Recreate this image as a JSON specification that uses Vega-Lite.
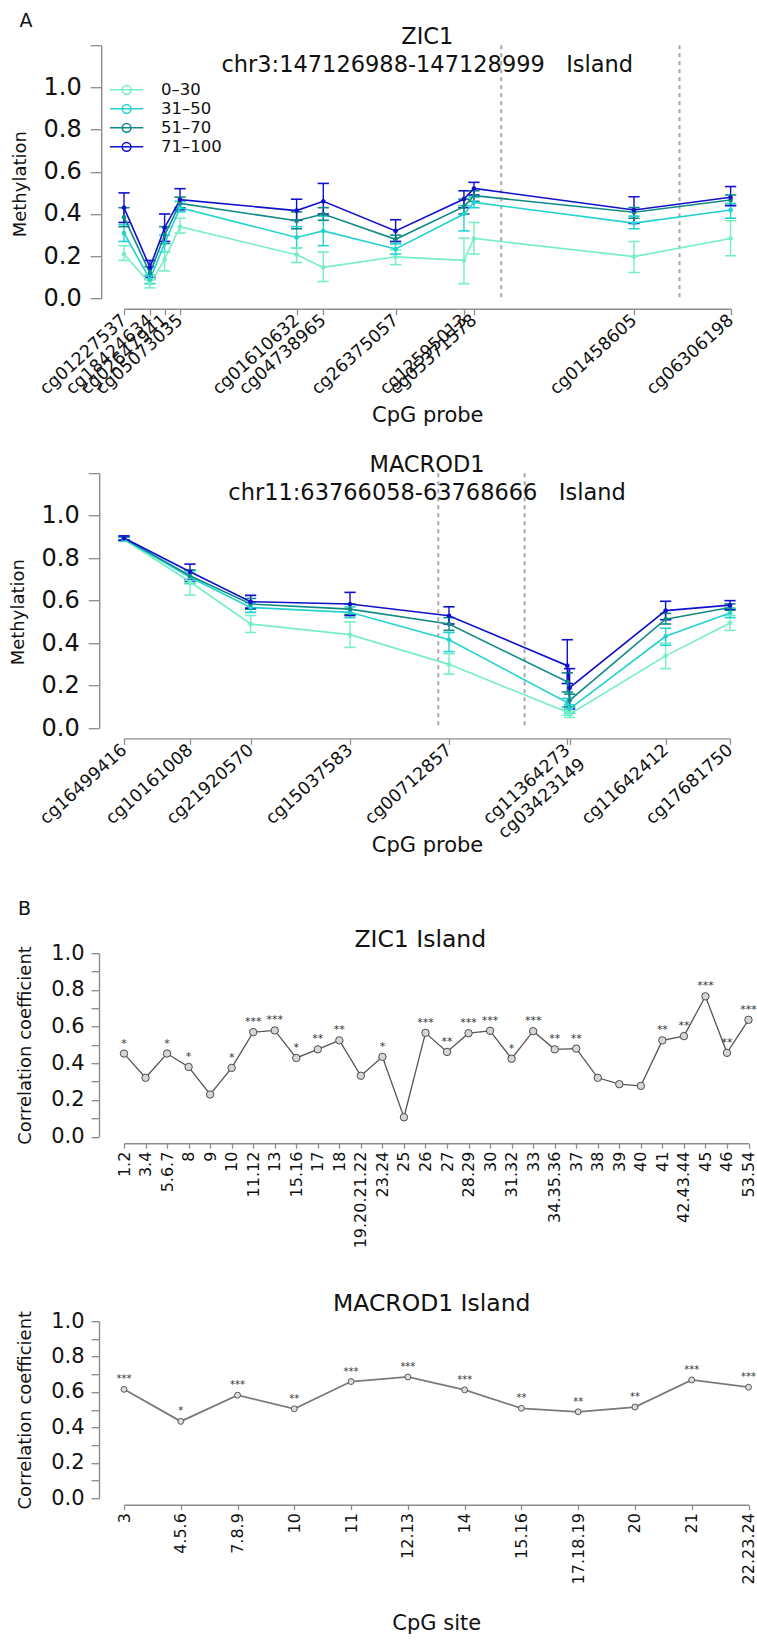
{
  "$schema": "https://vega.github.io/schema/vega-lite/v6.json",
  "bounds": "flush",
  "spacing": 0,
  "padding": {"left": 9, "top": 11.2, "right": 5, "bottom": 5},
  "resolve": {"scale": {"color": "independent"}, "legend": {"color": "independent"}},
  "config": {
    "view": {"stroke": null},
    "font": "DejaVu Sans",
    "axis": {"grid": false, "domainColor": "#8c8c8c", "tickColor": "#8c8c8c", "domainWidth": 1.4, "tickWidth": 1.3, "labelColor": "#111111", "titleColor": "#111111", "labelFont": "DejaVu Sans", "titleFont": "DejaVu Sans", "titleFontWeight": "normal", "labelFlush": false, "labelBound": false, "labelOverlap": false},
    "title": {"font": "DejaVu Sans", "fontWeight": "normal", "color": "#111111", "subtitleFont": "DejaVu Sans", "subtitleColor": "#111111"}
  },
  "vconcat": [
    {
      "width": 606.6, "height": 13.5,
      "title": {"text": "A", "anchor": "start", "frame": "group", "dx": -104.5, "dy": 18.5, "fontSize": 19, "offset": 0, "baseline": "bottom"},
      "data": {"values": []},
      "mark": "point"
    },
    {
      "width": 606.6, "height": 253.2,
      "title": {"text": "ZIC1", "subtitle": "chr3:147126988-147128999\u00a0\u00a0\u00a0Island", "fontSize": 22.5, "subtitleFontSize": 22.5, "subtitlePadding": 5.2, "offset": -43.1, "anchor": "middle", "frame": "group"},
      "data": {"values": [
        {"probe": "cg01227537", "pos": 147122732, "group": "0–30", "m": 0.21, "lo": 0.18, "hi": 0.25},
        {"probe": "cg01227537", "pos": 147122732, "group": "31–50", "m": 0.31, "lo": 0.27, "hi": 0.35},
        {"probe": "cg01227537", "pos": 147122732, "group": "51–70", "m": 0.385, "lo": 0.34, "hi": 0.43},
        {"probe": "cg01227537", "pos": 147122732, "group": "71–100", "m": 0.43, "lo": 0.36, "hi": 0.5},
        {"probe": "cg18424634", "pos": 147123025, "group": "0–30", "m": 0.07, "lo": 0.05, "hi": 0.09},
        {"probe": "cg18424634", "pos": 147123025, "group": "31–50", "m": 0.09, "lo": 0.07, "hi": 0.11},
        {"probe": "cg18424634", "pos": 147123025, "group": "51–70", "m": 0.12, "lo": 0.09, "hi": 0.15},
        {"probe": "cg18424634", "pos": 147123025, "group": "71–100", "m": 0.147, "lo": 0.1, "hi": 0.18},
        {"probe": "cg02647941", "pos": 147123190, "group": "0–30", "m": 0.185, "lo": 0.13, "hi": 0.22},
        {"probe": "cg02647941", "pos": 147123190, "group": "31–50", "m": 0.26, "lo": 0.22, "hi": 0.3},
        {"probe": "cg02647941", "pos": 147123190, "group": "51–70", "m": 0.3, "lo": 0.26, "hi": 0.34},
        {"probe": "cg02647941", "pos": 147123190, "group": "71–100", "m": 0.335, "lo": 0.27, "hi": 0.4},
        {"probe": "cg05073035", "pos": 147123364, "group": "0–30", "m": 0.34, "lo": 0.31, "hi": 0.38},
        {"probe": "cg05073035", "pos": 147123364, "group": "31–50", "m": 0.43, "lo": 0.41, "hi": 0.46},
        {"probe": "cg05073035", "pos": 147123364, "group": "51–70", "m": 0.45, "lo": 0.43, "hi": 0.48},
        {"probe": "cg05073035", "pos": 147123364, "group": "71–100", "m": 0.468, "lo": 0.42, "hi": 0.52},
        {"probe": "cg01610632", "pos": 147124679, "group": "0–30", "m": 0.207, "lo": 0.17, "hi": 0.24},
        {"probe": "cg01610632", "pos": 147124679, "group": "31–50", "m": 0.289, "lo": 0.24, "hi": 0.34},
        {"probe": "cg01610632", "pos": 147124679, "group": "51–70", "m": 0.368, "lo": 0.33, "hi": 0.41},
        {"probe": "cg01610632", "pos": 147124679, "group": "71–100", "m": 0.416, "lo": 0.37, "hi": 0.47},
        {"probe": "cg04738965", "pos": 147124980, "group": "0–30", "m": 0.147, "lo": 0.08, "hi": 0.22},
        {"probe": "cg04738965", "pos": 147124980, "group": "31–50", "m": 0.32, "lo": 0.25, "hi": 0.39},
        {"probe": "cg04738965", "pos": 147124980, "group": "51–70", "m": 0.4, "lo": 0.37, "hi": 0.43},
        {"probe": "cg04738965", "pos": 147124980, "group": "71–100", "m": 0.46, "lo": 0.4, "hi": 0.545},
        {"probe": "cg26375057", "pos": 147125796, "group": "0–30", "m": 0.197, "lo": 0.16, "hi": 0.23},
        {"probe": "cg26375057", "pos": 147125796, "group": "31–50", "m": 0.234, "lo": 0.21, "hi": 0.26},
        {"probe": "cg26375057", "pos": 147125796, "group": "51–70", "m": 0.28, "lo": 0.26, "hi": 0.3},
        {"probe": "cg26375057", "pos": 147125796, "group": "71–100", "m": 0.32, "lo": 0.27, "hi": 0.373},
        {"probe": "cg12595013", "pos": 147126567, "group": "0–30", "m": 0.18, "lo": 0.07, "hi": 0.285},
        {"probe": "cg12595013", "pos": 147126567, "group": "31–50", "m": 0.4, "lo": 0.32, "hi": 0.44},
        {"probe": "cg12595013", "pos": 147126567, "group": "51–70", "m": 0.435, "lo": 0.4, "hi": 0.47},
        {"probe": "cg12595013", "pos": 147126567, "group": "71–100", "m": 0.471, "lo": 0.43, "hi": 0.51},
        {"probe": "cg05371578", "pos": 147126680, "group": "0–30", "m": 0.284, "lo": 0.21, "hi": 0.36},
        {"probe": "cg05371578", "pos": 147126680, "group": "31–50", "m": 0.455, "lo": 0.43, "hi": 0.48},
        {"probe": "cg05371578", "pos": 147126680, "group": "51–70", "m": 0.487, "lo": 0.46, "hi": 0.51},
        {"probe": "cg05371578", "pos": 147126680, "group": "71–100", "m": 0.521, "lo": 0.49, "hi": 0.55},
        {"probe": "cg01458605", "pos": 147128485, "group": "0–30", "m": 0.198, "lo": 0.123, "hi": 0.27},
        {"probe": "cg01458605", "pos": 147128485, "group": "31–50", "m": 0.357, "lo": 0.33, "hi": 0.39},
        {"probe": "cg01458605", "pos": 147128485, "group": "51–70", "m": 0.408, "lo": 0.38, "hi": 0.43},
        {"probe": "cg01458605", "pos": 147128485, "group": "71–100", "m": 0.419, "lo": 0.355, "hi": 0.482},
        {"probe": "cg06306198", "pos": 147129575, "group": "0–30", "m": 0.284, "lo": 0.202, "hi": 0.368},
        {"probe": "cg06306198", "pos": 147129575, "group": "31–50", "m": 0.419, "lo": 0.38, "hi": 0.45},
        {"probe": "cg06306198", "pos": 147129575, "group": "51–70", "m": 0.466, "lo": 0.44, "hi": 0.49},
        {"probe": "cg06306198", "pos": 147129575, "group": "71–100", "m": 0.479, "lo": 0.44, "hi": 0.53},
        {"pos": 147126988, "cut": 1},
        {"pos": 147128999, "cut": 1}
      ]},
      "encoding": {
        "x": {"field": "pos", "type": "quantitative", "scale": {"domain": [147122732, 147129575], "nice": false, "zero": false},
          "axis": {"title": "CpG probe", "titleFontSize": 21, "titleY": 107, "titleBaseline": "middle", "offset": 10.3, "tickSize": 6,
            "values": [147122732, 147123025, 147123190, 147123364, 147124679, 147124980, 147125796, 147126567, 147126680, 147128485, 147129575],
            "labelExpr": "['cg01227537','cg18424634','cg02647941','cg05073035','cg01610632','cg04738965','cg26375057','cg12595013','cg05371578','cg01458605','cg06306198'][indexof([147122732,147123025,147123190,147123364,147124679,147124980,147125796,147126567,147126680,147128485,147129575], datum.value)]",
            "labelAngle": -42, "labelAlign": "right", "labelBaseline": "middle", "labelFontSize": 17.5, "labelPadding": 3}}
      },
      "layer": [
        {"transform": [{"filter": "datum.cut == 1"}],
         "mark": {"type": "rule", "strokeDash": [4, 4], "strokeWidth": 2, "color": "#a8a8a8"},
         "encoding": {}},
        {"transform": [{"filter": "datum.cut != 1"}],
         "mark": {"type": "rule", "strokeWidth": 1.4},
         "encoding": {
           "y": {"field": "lo", "type": "quantitative", "scale": {"domain": [0, 1.2], "nice": false},
             "axis": {"title": "Methylation", "titleFontSize": 18, "titleAngle": 270, "titleX": -80.4, "titleY": 138.5, "titleAlign": "center", "titleBaseline": "middle", "offset": 22.8, "tickSize": 11, "labelPadding": 9, "labelFontSize": 24, "values": [0, 0.2, 0.4, 0.6, 0.8, 1, 1.2], "labelExpr": "datum.value > 1.1 ? '' : format(datum.value, '.1f')"}},
           "y2": {"field": "hi"},
           "color": {"field": "group", "type": "nominal", "scale": {"domain": ["0–30", "31–50", "51–70", "71–100"], "range": ["#76eec6", "#22d3d0", "#108a86", "#1010cd"]},
             "legend": {"title": null, "orient": "none", "legendX": -6.4, "legendY": 35.6, "padding": 0, "symbolType": "M-2.08,0H2.08M-0.55,0A0.55,0.55,0,1,1,0.55,0A0.55,0.55,0,1,1,-0.55,0", "symbolSize": 256, "symbolStrokeWidth": 1.5, "symbolOpacity": 1, "symbolFillColor": "transparent", "labelFontSize": 16.5, "labelFont": "DejaVu Sans", "labelColor": "#111111", "labelOffset": 25.4, "rowPadding": 1}}}},
        {"transform": [{"filter": "datum.cut != 1"}],
         "mark": {"type": "tick", "orient": "horizontal", "size": 10, "thickness": 0.3, "filled": false, "strokeWidth": 1.3, "opacity": 1},
         "encoding": {
           "y": {"field": "lo", "type": "quantitative", "scale": {"domain": [0, 1.2], "nice": false},
             "axis": {"title": "Methylation", "titleFontSize": 18, "titleAngle": 270, "titleX": -80.4, "titleY": 138.5, "titleAlign": "center", "titleBaseline": "middle", "offset": 22.8, "tickSize": 11, "labelPadding": 9, "labelFontSize": 24, "values": [0, 0.2, 0.4, 0.6, 0.8, 1, 1.2], "labelExpr": "datum.value > 1.1 ? '' : format(datum.value, '.1f')"}},
           "color": {"field": "group", "type": "nominal", "scale": {"domain": ["0–30", "31–50", "51–70", "71–100"], "range": ["#76eec6", "#22d3d0", "#108a86", "#1010cd"]},
             "legend": {"title": null, "orient": "none", "legendX": -6.4, "legendY": 35.6, "padding": 0, "symbolType": "M-2.08,0H2.08M-0.55,0A0.55,0.55,0,1,1,0.55,0A0.55,0.55,0,1,1,-0.55,0", "symbolSize": 256, "symbolStrokeWidth": 1.5, "symbolOpacity": 1, "symbolFillColor": "transparent", "labelFontSize": 16.5, "labelFont": "DejaVu Sans", "labelColor": "#111111", "labelOffset": 25.4, "rowPadding": 1}}}},
        {"transform": [{"filter": "datum.cut != 1"}],
         "mark": {"type": "tick", "orient": "horizontal", "size": 10, "thickness": 0.3, "filled": false, "strokeWidth": 1.3, "opacity": 1},
         "encoding": {
           "y": {"field": "hi", "type": "quantitative", "scale": {"domain": [0, 1.2], "nice": false},
             "axis": {"title": "Methylation", "titleFontSize": 18, "titleAngle": 270, "titleX": -80.4, "titleY": 138.5, "titleAlign": "center", "titleBaseline": "middle", "offset": 22.8, "tickSize": 11, "labelPadding": 9, "labelFontSize": 24, "values": [0, 0.2, 0.4, 0.6, 0.8, 1, 1.2], "labelExpr": "datum.value > 1.1 ? '' : format(datum.value, '.1f')"}},
           "color": {"field": "group", "type": "nominal", "scale": {"domain": ["0–30", "31–50", "51–70", "71–100"], "range": ["#76eec6", "#22d3d0", "#108a86", "#1010cd"]},
             "legend": {"title": null, "orient": "none", "legendX": -6.4, "legendY": 35.6, "padding": 0, "symbolType": "M-2.08,0H2.08M-0.55,0A0.55,0.55,0,1,1,0.55,0A0.55,0.55,0,1,1,-0.55,0", "symbolSize": 256, "symbolStrokeWidth": 1.5, "symbolOpacity": 1, "symbolFillColor": "transparent", "labelFontSize": 16.5, "labelFont": "DejaVu Sans", "labelColor": "#111111", "labelOffset": 25.4, "rowPadding": 1}}}},
        {"transform": [{"filter": "datum.cut != 1"}],
         "mark": {"type": "line", "strokeWidth": 1.6},
         "encoding": {
           "y": {"field": "m", "type": "quantitative", "scale": {"domain": [0, 1.2], "nice": false},
             "axis": {"title": "Methylation", "titleFontSize": 18, "titleAngle": 270, "titleX": -80.4, "titleY": 138.5, "titleAlign": "center", "titleBaseline": "middle", "offset": 22.8, "tickSize": 11, "labelPadding": 9, "labelFontSize": 24, "values": [0, 0.2, 0.4, 0.6, 0.8, 1, 1.2], "labelExpr": "datum.value > 1.1 ? '' : format(datum.value, '.1f')"}},
           "color": {"field": "group", "type": "nominal", "scale": {"domain": ["0–30", "31–50", "51–70", "71–100"], "range": ["#76eec6", "#22d3d0", "#108a86", "#1010cd"]},
             "legend": {"title": null, "orient": "none", "legendX": -6.4, "legendY": 35.6, "padding": 0, "symbolType": "M-2.08,0H2.08M-0.55,0A0.55,0.55,0,1,1,0.55,0A0.55,0.55,0,1,1,-0.55,0", "symbolSize": 256, "symbolStrokeWidth": 1.5, "symbolOpacity": 1, "symbolFillColor": "transparent", "labelFontSize": 16.5, "labelFont": "DejaVu Sans", "labelColor": "#111111", "labelOffset": 25.4, "rowPadding": 1}}}},
        {"transform": [{"filter": "datum.cut != 1"}],
         "mark": {"type": "point", "filled": false, "size": 6, "strokeWidth": 2.2, "opacity": 1},
         "encoding": {
           "y": {"field": "m", "type": "quantitative", "scale": {"domain": [0, 1.2], "nice": false},
             "axis": {"title": "Methylation", "titleFontSize": 18, "titleAngle": 270, "titleX": -80.4, "titleY": 138.5, "titleAlign": "center", "titleBaseline": "middle", "offset": 22.8, "tickSize": 11, "labelPadding": 9, "labelFontSize": 24, "values": [0, 0.2, 0.4, 0.6, 0.8, 1, 1.2], "labelExpr": "datum.value > 1.1 ? '' : format(datum.value, '.1f')"}},
           "color": {"field": "group", "type": "nominal", "scale": {"domain": ["0–30", "31–50", "51–70", "71–100"], "range": ["#76eec6", "#22d3d0", "#108a86", "#1010cd"]},
             "legend": {"title": null, "orient": "none", "legendX": -6.4, "legendY": 35.6, "padding": 0, "symbolType": "M-2.08,0H2.08M-0.55,0A0.55,0.55,0,1,1,0.55,0A0.55,0.55,0,1,1,-0.55,0", "symbolSize": 256, "symbolStrokeWidth": 1.5, "symbolOpacity": 1, "symbolFillColor": "transparent", "labelFontSize": 16.5, "labelFont": "DejaVu Sans", "labelColor": "#111111", "labelOffset": 25.4, "rowPadding": 1}}}}
      ]
    },
    {"width": 606.6, "height": 173.1, "data": {"values": []}, "mark": "point"},
    {
      "width": 606.0, "height": 254.9,
      "title": {"text": "MACROD1", "subtitle": "chr11:63766058-63768666\u00a0\u00a0\u00a0Island", "fontSize": 22.5, "subtitleFontSize": 22.5, "subtitlePadding": 5.5, "offset": -43.8, "anchor": "middle", "frame": "group"},
      "data": {"values": [
        {"probe": "cg16499416", "pos": 63756560, "group": "0–30", "m": 0.888, "lo": 0.88, "hi": 0.9},
        {"probe": "cg16499416", "pos": 63756560, "group": "31–50", "m": 0.89, "lo": 0.88, "hi": 0.9},
        {"probe": "cg16499416", "pos": 63756560, "group": "51–70", "m": 0.893, "lo": 0.885, "hi": 0.9},
        {"probe": "cg16499416", "pos": 63756560, "group": "71–100", "m": 0.895, "lo": 0.885, "hi": 0.905},
        {"probe": "cg10161008", "pos": 63758554, "group": "0–30", "m": 0.689, "lo": 0.626, "hi": 0.73},
        {"probe": "cg10161008", "pos": 63758554, "group": "31–50", "m": 0.71, "lo": 0.68, "hi": 0.74},
        {"probe": "cg10161008", "pos": 63758554, "group": "51–70", "m": 0.717, "lo": 0.69, "hi": 0.745},
        {"probe": "cg10161008", "pos": 63758554, "group": "71–100", "m": 0.736, "lo": 0.7, "hi": 0.772},
        {"probe": "cg21920570", "pos": 63760386, "group": "0–30", "m": 0.49, "lo": 0.45, "hi": 0.53},
        {"probe": "cg21920570", "pos": 63760386, "group": "31–50", "m": 0.568, "lo": 0.545, "hi": 0.59},
        {"probe": "cg21920570", "pos": 63760386, "group": "51–70", "m": 0.584, "lo": 0.56, "hi": 0.61},
        {"probe": "cg21920570", "pos": 63760386, "group": "71–100", "m": 0.595, "lo": 0.565, "hi": 0.625},
        {"probe": "cg15037583", "pos": 63763390, "group": "0–30", "m": 0.44, "lo": 0.38, "hi": 0.5},
        {"probe": "cg15037583", "pos": 63763390, "group": "31–50", "m": 0.545, "lo": 0.52, "hi": 0.57},
        {"probe": "cg15037583", "pos": 63763390, "group": "51–70", "m": 0.56, "lo": 0.535, "hi": 0.585},
        {"probe": "cg15037583", "pos": 63763390, "group": "71–100", "m": 0.584, "lo": 0.53, "hi": 0.639},
        {"probe": "cg00712857", "pos": 63766381, "group": "0–30", "m": 0.3, "lo": 0.254, "hi": 0.35},
        {"probe": "cg00712857", "pos": 63766381, "group": "31–50", "m": 0.416, "lo": 0.36, "hi": 0.45},
        {"probe": "cg00712857", "pos": 63766381, "group": "51–70", "m": 0.49, "lo": 0.46, "hi": 0.52},
        {"probe": "cg00712857", "pos": 63766381, "group": "71–100", "m": 0.529, "lo": 0.49, "hi": 0.571},
        {"probe": "cg11364273", "pos": 63769956, "group": "0–30", "m": 0.075, "lo": 0.06, "hi": 0.09},
        {"probe": "cg11364273", "pos": 63769956, "group": "31–50", "m": 0.12, "lo": 0.1, "hi": 0.14},
        {"probe": "cg11364273", "pos": 63769956, "group": "51–70", "m": 0.218, "lo": 0.17, "hi": 0.26},
        {"probe": "cg11364273", "pos": 63769956, "group": "71–100", "m": 0.294, "lo": 0.21, "hi": 0.416},
        {"probe": "cg03423149", "pos": 63770026, "group": "0–30", "m": 0.065, "lo": 0.05, "hi": 0.08},
        {"probe": "cg03423149", "pos": 63770026, "group": "31–50", "m": 0.09, "lo": 0.07, "hi": 0.11},
        {"probe": "cg03423149", "pos": 63770026, "group": "51–70", "m": 0.13, "lo": 0.1, "hi": 0.16},
        {"probe": "cg03423149", "pos": 63770026, "group": "71–100", "m": 0.19, "lo": 0.09, "hi": 0.28},
        {"probe": "cg11642412", "pos": 63772927, "group": "0–30", "m": 0.34, "lo": 0.28, "hi": 0.4},
        {"probe": "cg11642412", "pos": 63772927, "group": "31–50", "m": 0.432, "lo": 0.39, "hi": 0.47},
        {"probe": "cg11642412", "pos": 63772927, "group": "51–70", "m": 0.513, "lo": 0.49, "hi": 0.54},
        {"probe": "cg11642412", "pos": 63772927, "group": "71–100", "m": 0.553, "lo": 0.51, "hi": 0.597},
        {"probe": "cg17681750", "pos": 63774873, "group": "0–30", "m": 0.495, "lo": 0.46, "hi": 0.53},
        {"probe": "cg17681750", "pos": 63774873, "group": "31–50", "m": 0.542, "lo": 0.52, "hi": 0.565},
        {"probe": "cg17681750", "pos": 63774873, "group": "51–70", "m": 0.568, "lo": 0.555, "hi": 0.585},
        {"probe": "cg17681750", "pos": 63774873, "group": "71–100", "m": 0.579, "lo": 0.56, "hi": 0.6},
        {"pos": 63766058, "cut": 1},
        {"pos": 63768666, "cut": 1}
      ]},
      "encoding": {
        "x": {"field": "pos", "type": "quantitative", "scale": {"domain": [63756560, 63774873], "nice": false, "zero": false},
          "axis": {"title": "CpG probe", "titleFontSize": 21, "titleY": 107, "titleBaseline": "middle", "offset": 10.3, "tickSize": 6,
            "values": [63756560, 63758554, 63760386, 63763390, 63766381, 63769956, 63770026, 63772927, 63774873],
            "labelExpr": "datum.value == 63769956 ? ['cg11364273', ''] : datum.value == 63770026 ? ['', 'cg03423149'] : ['cg16499416','cg10161008','cg21920570','cg15037583','cg00712857','cg11364273','cg03423149','cg11642412','cg17681750'][indexof([63756560,63758554,63760386,63763390,63766381,63769956,63770026,63772927,63774873], datum.value)]",
            "labelLineHeight": 19, "labelAngle": -42, "labelAlign": "right", "labelBaseline": "middle", "labelFontSize": 17.5, "labelPadding": 3}}
      },
      "layer": [
        {"transform": [{"filter": "datum.cut == 1"}],
         "mark": {"type": "rule", "strokeDash": [4, 4], "strokeWidth": 2, "color": "#a8a8a8"},
         "encoding": {}},
        {"transform": [{"filter": "datum.cut != 1"}],
         "mark": {"type": "rule", "strokeWidth": 1.4},
         "encoding": {
           "y": {"field": "lo", "type": "quantitative", "scale": {"domain": [0, 1.2], "nice": false},
             "axis": {"title": "Methylation", "titleFontSize": 18, "titleAngle": 270, "titleX": -80.4, "titleY": 138.5, "titleAlign": "center", "titleBaseline": "middle", "offset": 24.8, "tickSize": 11, "labelPadding": 9, "labelFontSize": 24, "values": [0, 0.2, 0.4, 0.6, 0.8, 1, 1.2], "labelExpr": "datum.value > 1.1 ? '' : format(datum.value, '.1f')"}},
           "y2": {"field": "hi"},
           "color": {"field": "group", "type": "nominal", "scale": {"domain": ["0–30", "31–50", "51–70", "71–100"], "range": ["#76eec6", "#22d3d0", "#108a86", "#1010cd"]}, "legend": null}}},
        {"transform": [{"filter": "datum.cut != 1"}],
         "mark": {"type": "tick", "orient": "horizontal", "size": 10, "thickness": 0.3, "filled": false, "strokeWidth": 1.3, "opacity": 1},
         "encoding": {
           "y": {"field": "lo", "type": "quantitative", "scale": {"domain": [0, 1.2], "nice": false},
             "axis": {"title": "Methylation", "titleFontSize": 18, "titleAngle": 270, "titleX": -80.4, "titleY": 138.5, "titleAlign": "center", "titleBaseline": "middle", "offset": 24.8, "tickSize": 11, "labelPadding": 9, "labelFontSize": 24, "values": [0, 0.2, 0.4, 0.6, 0.8, 1, 1.2], "labelExpr": "datum.value > 1.1 ? '' : format(datum.value, '.1f')"}},
           "color": {"field": "group", "type": "nominal", "scale": {"domain": ["0–30", "31–50", "51–70", "71–100"], "range": ["#76eec6", "#22d3d0", "#108a86", "#1010cd"]}, "legend": null}}},
        {"transform": [{"filter": "datum.cut != 1"}],
         "mark": {"type": "tick", "orient": "horizontal", "size": 10, "thickness": 0.3, "filled": false, "strokeWidth": 1.3, "opacity": 1},
         "encoding": {
           "y": {"field": "hi", "type": "quantitative", "scale": {"domain": [0, 1.2], "nice": false},
             "axis": {"title": "Methylation", "titleFontSize": 18, "titleAngle": 270, "titleX": -80.4, "titleY": 138.5, "titleAlign": "center", "titleBaseline": "middle", "offset": 24.8, "tickSize": 11, "labelPadding": 9, "labelFontSize": 24, "values": [0, 0.2, 0.4, 0.6, 0.8, 1, 1.2], "labelExpr": "datum.value > 1.1 ? '' : format(datum.value, '.1f')"}},
           "color": {"field": "group", "type": "nominal", "scale": {"domain": ["0–30", "31–50", "51–70", "71–100"], "range": ["#76eec6", "#22d3d0", "#108a86", "#1010cd"]}, "legend": null}}},
        {"transform": [{"filter": "datum.cut != 1"}],
         "mark": {"type": "line", "strokeWidth": 1.6},
         "encoding": {
           "y": {"field": "m", "type": "quantitative", "scale": {"domain": [0, 1.2], "nice": false},
             "axis": {"title": "Methylation", "titleFontSize": 18, "titleAngle": 270, "titleX": -80.4, "titleY": 138.5, "titleAlign": "center", "titleBaseline": "middle", "offset": 24.8, "tickSize": 11, "labelPadding": 9, "labelFontSize": 24, "values": [0, 0.2, 0.4, 0.6, 0.8, 1, 1.2], "labelExpr": "datum.value > 1.1 ? '' : format(datum.value, '.1f')"}},
           "color": {"field": "group", "type": "nominal", "scale": {"domain": ["0–30", "31–50", "51–70", "71–100"], "range": ["#76eec6", "#22d3d0", "#108a86", "#1010cd"]}, "legend": null}}},
        {"transform": [{"filter": "datum.cut != 1"}],
         "mark": {"type": "point", "filled": false, "size": 6, "strokeWidth": 2.2, "opacity": 1},
         "encoding": {
           "y": {"field": "m", "type": "quantitative", "scale": {"domain": [0, 1.2], "nice": false},
             "axis": {"title": "Methylation", "titleFontSize": 18, "titleAngle": 270, "titleX": -80.4, "titleY": 138.5, "titleAlign": "center", "titleBaseline": "middle", "offset": 24.8, "tickSize": 11, "labelPadding": 9, "labelFontSize": 24, "values": [0, 0.2, 0.4, 0.6, 0.8, 1, 1.2], "labelExpr": "datum.value > 1.1 ? '' : format(datum.value, '.1f')"}},
           "color": {"field": "group", "type": "nominal", "scale": {"domain": ["0–30", "31–50", "51–70", "71–100"], "range": ["#76eec6", "#22d3d0", "#108a86", "#1010cd"]}, "legend": null}}}
      ]
    },
    {"width": 606.6, "height": 186.3, "data": {"values": []}, "mark": "point"},
    {
      "width": 606.6, "height": 38,
      "title": {"text": "B", "anchor": "start", "frame": "group", "dx": -106, "dy": 23, "fontSize": 19, "offset": 0, "baseline": "bottom"},
      "data": {"values": []},
      "mark": "point"
    },
    {
      "width": 624.5, "height": 183.5,
      "title": {"text": "ZIC1 Island", "fontSize": 23.5, "offset": -9, "anchor": "middle", "frame": "group", "dx": -16},
      "data": {"values": [
        {"site": "1.2", "r": 0.453, "sig": "*"},
        {"site": "3.4", "r": 0.321, "sig": ""},
        {"site": "5.6.7", "r": 0.453, "sig": "*"},
        {"site": "8", "r": 0.38, "sig": "*"},
        {"site": "9", "r": 0.23, "sig": ""},
        {"site": "10", "r": 0.375, "sig": "*"},
        {"site": "11.12", "r": 0.57, "sig": "***"},
        {"site": "13", "r": 0.579, "sig": "***"},
        {"site": "15.16", "r": 0.429, "sig": "*"},
        {"site": "17", "r": 0.476, "sig": "**"},
        {"site": "18", "r": 0.525, "sig": "**"},
        {"site": "19.20.21.22", "r": 0.332, "sig": ""},
        {"site": "23.24", "r": 0.435, "sig": "*"},
        {"site": "25", "r": 0.106, "sig": ""},
        {"site": "26", "r": 0.566, "sig": "***"},
        {"site": "27", "r": 0.462, "sig": "**"},
        {"site": "28.29", "r": 0.564, "sig": "***"},
        {"site": "30", "r": 0.577, "sig": "***"},
        {"site": "31.32", "r": 0.425, "sig": "*"},
        {"site": "33", "r": 0.575, "sig": "***"},
        {"site": "34.35.36", "r": 0.476, "sig": "**"},
        {"site": "37", "r": 0.48, "sig": "**"},
        {"site": "38", "r": 0.321, "sig": ""},
        {"site": "39", "r": 0.286, "sig": ""},
        {"site": "40", "r": 0.277, "sig": ""},
        {"site": "41", "r": 0.525, "sig": "**"},
        {"site": "42.43.44", "r": 0.548, "sig": "**"},
        {"site": "45", "r": 0.765, "sig": "***"},
        {"site": "46", "r": 0.457, "sig": "**"},
        {"site": "53.54", "r": 0.637, "sig": "***"}
      ]},
      "encoding": {
        "x": {"field": "site", "type": "nominal", "sort": null, "scale": {"type": "point", "padding": 0},
          "axis": {"title": null, "labelAngle": -90, "labelAlign": "right", "labelBaseline": "middle", "labelFontSize": 16, "tickSize": 5, "labelPadding": 3, "offset": 6.5}},
        "y": {"field": "r", "type": "quantitative", "scale": {"domain": [0, 1], "nice": false},
          "axis": {"title": "Correlation coefficient", "titleFontSize": 18, "titleAngle": 270, "titleX": -73.5, "titleAlign": "center", "titleBaseline": "middle", "offset": 25, "tickSize": 8, "labelPadding": 7, "labelFontSize": 21,
            "values": [0, 0.1, 0.2, 0.3, 0.4, 0.5, 0.6, 0.7, 0.8, 0.9, 1], "labelExpr": "round(datum.value * 10) % 2 == 0 ? format(datum.value, '.1f') : ''"}}
      },
      "layer": [
        {"mark": {"type": "line", "color": "#555555", "strokeWidth": 1.3}},
        {"mark": {"type": "point", "shape": "circle", "filled": false, "fill": "#d6d6d6", "fillOpacity": 1, "stroke": "#4a4a4a", "strokeWidth": 1, "size": 55, "opacity": 1}},
        {"mark": {"type": "text", "dy": -10, "fontSize": 11, "color": "#333333", "baseline": "middle"}, "encoding": {"text": {"field": "sig"}}}
      ]
    },
    {"width": 606.6, "height": 183.5, "data": {"values": []}, "mark": "point"},
    {
      "width": 624.5, "height": 177,
      "title": {"text": "MACROD1 Island", "fontSize": 23.5, "offset": -5, "anchor": "middle", "frame": "group", "dx": -4.5},
      "data": {"values": [
        {"site": "3", "r": 0.615, "sig": "***"},
        {"site": "4.5.6", "r": 0.434, "sig": "*"},
        {"site": "7.8.9", "r": 0.582, "sig": "***"},
        {"site": "10", "r": 0.505, "sig": "**"},
        {"site": "11", "r": 0.659, "sig": "***"},
        {"site": "12.13", "r": 0.685, "sig": "***"},
        {"site": "14", "r": 0.612, "sig": "***"},
        {"site": "15.16", "r": 0.508, "sig": "**"},
        {"site": "17.18.19", "r": 0.488, "sig": "**"},
        {"site": "20", "r": 0.515, "sig": "**"},
        {"site": "21", "r": 0.668, "sig": "***"},
        {"site": "22.23.24", "r": 0.627, "sig": "***"}
      ]},
      "encoding": {
        "x": {"field": "site", "type": "nominal", "sort": null, "scale": {"type": "point", "padding": 0},
          "axis": {"title": "CpG site", "titleFontSize": 21, "titleY": 119, "titleBaseline": "middle", "labelAngle": -90, "labelAlign": "right", "labelBaseline": "middle", "labelFontSize": 16, "tickSize": 5, "labelPadding": 3, "offset": 6.5}},
        "y": {"field": "r", "type": "quantitative", "scale": {"domain": [0, 1], "nice": false},
          "axis": {"title": "Correlation coefficient", "titleFontSize": 18, "titleAngle": 270, "titleX": -73.5, "titleAlign": "center", "titleBaseline": "middle", "offset": 25, "tickSize": 8, "labelPadding": 7, "labelFontSize": 21,
            "values": [0, 0.1, 0.2, 0.3, 0.4, 0.5, 0.6, 0.7, 0.8, 0.9, 1], "labelExpr": "round(datum.value * 10) % 2 == 0 ? format(datum.value, '.1f') : ''"}}
      },
      "layer": [
        {"mark": {"type": "line", "color": "#7a7a7a", "strokeWidth": 1.8}},
        {"mark": {"type": "point", "shape": "circle", "filled": false, "fill": "#dddddd", "fillOpacity": 1, "stroke": "#555555", "strokeWidth": 1, "size": 35, "opacity": 1}},
        {"mark": {"type": "text", "dy": -10, "fontSize": 10, "color": "#333333", "baseline": "middle"}, "encoding": {"text": {"field": "sig"}}}
      ]
    }
  ]
}
